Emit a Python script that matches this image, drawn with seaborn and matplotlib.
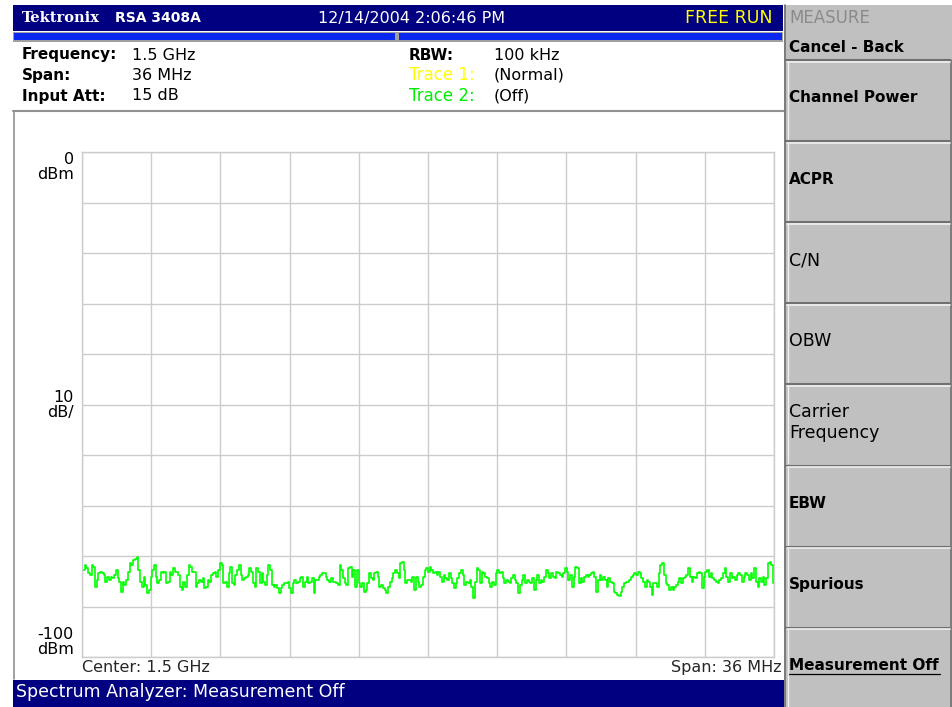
import numpy as np
import pandas as pd
import matplotlib
matplotlib.use("Agg")
import matplotlib.pyplot as plt
from matplotlib.patches import Rectangle
import seaborn as sns

# data (trace 1, dBm), left to right, one block per ~1/6 of span
TRACE_SEG1 = [-82.8, -82.8, -81.8, -82.4, -83.4, -83.8, -81.8, -82.1, -86.1, -84.7, -83.4, -83.1, -83.4,
              -83.8, -85.1, -84.1, -84.7, -84.1, -84.4, -83.8, -82.8, -84.4, -85.1, -87.1, -85.1, -85.7,
              -84.7, -83.1, -81.4, -81.8, -80.8, -80.5, -80.1, -82.8, -85.1, -86.1, -84.1, -85.7, -87.4,
              -86.7, -84.1, -82.8, -81.8, -84.1, -85.4, -84.7, -83.1, -83.4, -83.1, -85.4, -85.1, -83.1,
              -83.8, -82.4]
TRACE_SEG2 = [-83.1, -83.1, -83.8, -86.1, -86.7, -85.1, -86.1, -83.8, -81.8, -82.1, -83.1, -83.1, -86.1,
              -85.4, -84.7, -85.1, -84.4, -86.4, -86.1, -84.7, -85.1, -83.8, -83.4, -83.1, -84.1, -82.8,
              -81.4, -81.8, -85.4, -85.1, -86.1, -83.4, -82.1, -85.4, -85.7, -83.8, -82.8, -81.8, -83.8,
              -84.7, -84.4, -84.1, -83.8, -82.4, -83.1, -85.4, -86.1, -82.4, -83.1, -85.4, -83.4, -85.1,
              -85.7, -83.8, -81.8, -82.8, -85.7, -86.1, -85.7, -86.4, -87.4, -86.4, -85.7, -85.4]
TRACE_SEG3 = [-85.4, -85.1, -86.4, -87.4, -85.4, -84.7, -85.4, -85.1, -84.4, -84.1, -86.1, -85.1, -84.1,
              -85.4, -85.1, -84.4, -87.4, -84.7, -84.7, -84.1, -83.8, -83.4, -83.4, -84.1, -84.7, -85.1,
              -84.4, -85.1, -85.1, -85.4, -85.7, -81.8, -82.8, -84.4, -85.4, -85.7, -82.4, -82.1, -84.1,
              -82.8, -86.1, -82.8, -85.4, -86.1, -85.4, -87.1, -86.7, -85.4, -83.4, -84.4, -84.7, -83.4,
              -83.1, -84.1, -86.1, -85.7, -86.4, -86.7, -87.4, -86.1, -85.1, -84.4, -83.4, -82.8, -83.4,
              -84.4, -81.4, -81.1, -82.8, -85.4, -84.7]
TRACE_SEG4 = [-84.7, -85.1, -84.1, -86.7, -84.1, -85.1, -86.1, -85.7, -84.1, -82.8, -82.4, -83.1, -82.1,
              -82.8, -83.4, -83.1, -83.8, -83.1, -84.1, -85.1, -83.8, -84.4, -84.7, -83.4, -84.4, -85.4,
              -86.4, -85.4, -84.4, -83.4, -82.8, -83.8, -85.7, -85.1, -85.4, -84.7, -86.1, -88.4, -85.1,
              -82.4, -82.8, -85.4, -83.1, -83.4, -84.1, -84.4, -85.4, -86.1, -85.1, -85.7, -83.4, -82.8,
              -83.4, -83.1, -84.4, -85.4, -84.7, -85.1, -85.4, -84.4, -83.8, -84.7, -85.4, -87.4, -85.7,
              -84.7, -83.8, -85.4, -84.7, -85.1, -85.4]
TRACE_SEG5 = [-84.4, -86.7, -84.7, -83.8, -85.4, -84.7, -85.1, -84.1, -82.8, -83.4, -84.4, -83.4, -84.1,
              -84.4, -83.1, -83.4, -83.8, -84.1, -83.4, -82.4, -83.1, -84.7, -83.8, -86.1, -84.1, -82.1,
              -82.4, -85.4, -84.4, -85.1, -84.1, -83.8, -84.1, -83.8, -83.4, -83.1, -84.1, -87.1, -84.7,
              -83.8, -84.7, -84.1, -84.7, -86.1, -84.4, -85.1, -85.4, -87.1, -87.4, -87.7, -88.0, -87.1,
              -86.1, -85.4, -85.1, -85.1, -84.7, -84.1, -83.8, -83.4, -83.8, -83.1, -83.4, -84.4, -85.1,
              -86.1, -84.7, -85.1, -86.1, -87.7, -85.4]
TRACE_SEG6 = [-85.4, -86.1, -83.4, -81.8, -81.4, -83.8, -85.4, -85.7, -86.7, -86.1, -86.7, -86.1, -85.7,
              -85.1, -84.4, -85.4, -84.4, -84.1, -83.8, -82.4, -84.1, -85.1, -84.1, -84.4, -83.4, -83.1,
              -83.4, -86.4, -84.1, -83.1, -82.8, -84.1, -83.4, -84.4, -84.7, -85.1, -85.4, -84.7, -84.4,
              -83.4, -82.4, -84.1, -85.1, -83.4, -84.4, -84.1, -84.7, -83.8, -83.4, -83.8, -85.1, -84.1,
              -83.4, -83.8, -84.7, -83.4, -84.4, -82.4, -85.1, -86.1, -84.4, -85.1, -84.1, -85.7, -84.4,
              -81.4, -81.1, -81.8, -85.4]

CENTER_MHZ = 1500.0
SPAN_MHZ = 36.0
REF_LEVEL = 0
BOTTOM_LEVEL = -100

# (label, value, label colour, label bold)
INFO_LEFT = [("Frequency:", "1.5 GHz", "black", True), ("Span:", "36 MHz", "black", True),
             ("Input Att:", "15 dB", "black", True)]
INFO_RIGHT = [("RBW:", "100 kHz", "black", True), ("Trace 1:", "(Normal)", "#ffff00", False),
              ("Trace 2:", "(Off)", "#00ee00", False)]
SOFTKEYS = ["Channel Power", "ACPR", "C/N", "OBW", "Carrier\nFrequency", "EBW", "Spurious", "Measurement Off"]
SOFTKEY_BOLD = [True, True, False, False, False, True, True, True]

W, H = 952, 707
NAVY = "#000080"
PANEL = "#c0c0c0"
FONT = "DejaVu Sans"


def fx(x):
    return x / W


def fy(y):
    return 1 - y / H


def rect(fig, x0, y0, x1, y1, color, z=0):
    fig.add_artist(Rectangle((fx(x0), fy(y1)), (x1 - x0) / W, (y1 - y0) / H,
                             transform=fig.transFigure, facecolor=color, edgecolor="none", zorder=z))


def hline(fig, x0, x1, y, color, lw=1.0):
    fig.add_artist(plt.Line2D([fx(x0), fx(x1)], [fy(y), fy(y)], transform=fig.transFigure, color=color, lw=lw))


def vline(fig, x, y0, y1, color, lw=1.0):
    fig.add_artist(plt.Line2D([fx(x), fx(x)], [fy(y0), fy(y1)], transform=fig.transFigure, color=color, lw=lw))


def txt(fig, x, y, s, **kw):
    kw.setdefault("fontsize", 11.5)
    kw.setdefault("va", "center")
    kw.setdefault("family", FONT)
    fig.text(fx(x), fy(y), s, **kw)


def draw_frame(fig):
    # header bar
    rect(fig, 13, 5, 783, 31, NAVY)
    txt(fig, 22, 18, "Tektronix", color="white", fontsize=10.5, weight="bold", family="DejaVu Serif")
    txt(fig, 115, 18, "RSA 3408A", color="white", fontsize=10, weight="bold")
    txt(fig, 318, 18, "12/14/2004 2:06:46 PM", color="white", fontsize=11.5)
    txt(fig, 685, 18, "FREE RUN", color="#ffff00", fontsize=12.5)

    # blue progress bars
    rect(fig, 13, 32, 783, 42, "#a0a0a0")
    rect(fig, 14, 33, 395, 40, "#0a28f0")
    rect(fig, 399, 33, 782, 40, "#0a28f0")

    # setup info
    for i, (k, v, c, b) in enumerate(INFO_LEFT):
        y = 55 + i * 20.5
        txt(fig, 22, y, k, color=c, weight="bold" if b else "normal", fontsize=11)
        txt(fig, 132, y, v, color="black")
    for i, (k, v, c, b) in enumerate(INFO_RIGHT):
        y = 55 + i * 20.5
        txt(fig, 409, y, k, color=c, weight="bold" if b else "normal", fontsize=11 if b else 12)
        txt(fig, 494, y, v, color="black")

    # plot panel borders
    hline(fig, 13, 784, 111, "#909090", 1.5)
    vline(fig, 13.5, 111, 679, "#909090", 1.2)

    # status bar
    rect(fig, 13, 680, 785, 707, NAVY)
    txt(fig, 16, 692, "Spectrum Analyzer: Measurement Off", color="white", fontsize=12.5)

    # softkey panel
    rect(fig, 784, 0, 952, 707, PANEL)
    rect(fig, 784, 0, 952, 5, "white")
    vline(fig, 785, 5, 707, "#707070", 1.2)
    vline(fig, 950.5, 60, 707, "#707070", 1.2)
    txt(fig, 789, 18, "MEASURE", color="#8a8a8a", fontsize=12)
    txt(fig, 789, 47, "Cancel - Back", color="black", fontsize=11, weight="bold")
    for i, label in enumerate(SOFTKEYS):
        top = 60 + i * 81.1
        hline(fig, 786, 950, top, "#707070", 1.5)
        hline(fig, 787, 950, top + 1.8, "#f0f0f0", 1.2)
        vline(fig, 787.5, top + 2, top + 79, "#f0f0f0", 1.0)
        bold = SOFTKEY_BOLD[i]
        txt(fig, 789, top + 38, label, color="black", fontsize=11 if bold else 12.5,
            weight="bold" if bold else "normal", linespacing=1.2)
        if label == "Measurement Off":
            hline(fig, 789, 940, top + 46, "black", 0.9)


def draw_trace(fig):
    trace = TRACE_SEG1 + TRACE_SEG2 + TRACE_SEG3 + TRACE_SEG4 + TRACE_SEG5 + TRACE_SEG6
    freq = np.linspace(CENTER_MHZ - SPAN_MHZ / 2, CENTER_MHZ + SPAN_MHZ / 2, len(trace))
    df = pd.DataFrame({"freq": freq, "level": trace})

    ax = fig.add_axes([fx(82), fy(657), (774 - 82) / W, (657 - 152) / H])
    ax.set_facecolor("white")
    sns.lineplot(data=df, x="freq", y="level", ax=ax, color="#00ff00", linewidth=1.2,
                 estimator=None, sort=False, drawstyle="steps-mid")

    ax.set_xlim(freq[0], freq[-1])
    ax.set_ylim(BOTTOM_LEVEL, REF_LEVEL)
    ax.set_xticks(np.linspace(freq[0], freq[-1], 11))
    ax.set_yticks(np.arange(BOTTOM_LEVEL, REF_LEVEL + 1, 10))
    ax.set_xticklabels([])
    ax.set_yticklabels([])
    ax.tick_params(length=0)
    ax.grid(True, color="#cccccc", linewidth=1.0)
    ax.set_axisbelow(True)
    for s in ax.spines.values():
        s.set_color("#cccccc")
        s.set_linewidth(1.0)
    ax.set_xlabel("")
    ax.set_ylabel("")

    lab = dict(xycoords=("axes fraction", "data"), textcoords="offset pixels", ha="right",
               fontsize=11.5, family=FONT, linespacing=1.0, color="black")
    ax.annotate("0\ndBm", xy=(0, REF_LEVEL), xytext=(-8, 0), va="top", **lab)
    ax.annotate("10\ndB/", xy=(0, (REF_LEVEL + BOTTOM_LEVEL) / 2), xytext=(-8, 0), va="center", **lab)
    ax.annotate("-100\ndBm", xy=(0, BOTTOM_LEVEL), xytext=(-8, 0), va="bottom", **lab)

    ax.annotate("Center: 1.5 GHz", xy=(0, 0), xycoords="axes fraction", xytext=(0, -3),
                textcoords="offset pixels", ha="left", va="top", fontsize=11.5, family=FONT)
    ax.annotate("Span: 36 MHz", xy=(1, 0), xycoords="axes fraction", xytext=(8, -3),
                textcoords="offset pixels", ha="right", va="top", fontsize=11.5, family=FONT)
    return ax


def main():
    sns.set_style("white")
    plt.rcParams["font.family"] = [FONT]
    fig = plt.figure(figsize=(W / 100, H / 100), dpi=100, facecolor="white")
    draw_frame(fig)
    draw_trace(fig)
    fig.savefig("out.png", dpi=100, facecolor="white")


if __name__ == "__main__":
    main()
